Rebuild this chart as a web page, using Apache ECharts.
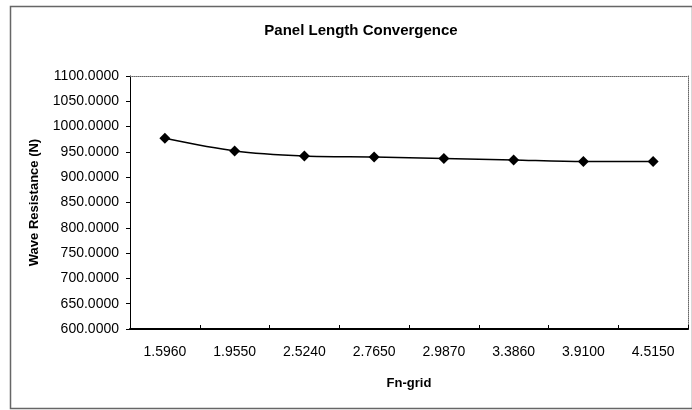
<!DOCTYPE html>
<html>
<head>
<meta charset="utf-8">
<script src="https://cdn.jsdelivr.net/npm/echarts@6/dist/echarts.min.js"></script>
<style>
  html, body { margin: 0; padding: 0; background: #fff; }
  #chart { width: 692px; height: 410px; }
</style>
</head>
<body>
<div id="chart"></div>
<script>
// Fn-grid categories and computed wave resistance (N)
const fnGrid = ['1.5960', '1.9550', '2.5240', '2.7650', '2.9870', '3.3860', '3.9100', '4.5150'];
const waveResistance = [977, 952, 942, 940, 937, 934, 931, 931];
const yMin = 600;
const yMax = 1100;
const yStep = 50;

const FONT = '"Liberation Sans", Arial, sans-serif';
const chart = echarts.init(document.getElementById('chart'), null, { renderer: 'canvas' });

chart.setOption({
  animation: false,
  backgroundColor: '#fff',
  title: {
    text: 'Panel Length Convergence',
    left: 356,
    textAlign: 'center',
    top: 18,
    textStyle: { fontFamily: FONT, fontSize: 15, fontWeight: 'bold', color: '#000' }
  },
  graphic: [{
    type: 'rect',
    left: 8,
    top: 4,
    shape: { width: 682, height: 402 },
    style: { fill: 'none', stroke: '#666', lineWidth: 1.5 },
    silent: true
  }],
  grid: { left: 130, right: 4, top: 76, bottom: 81 },
  xAxis: [{
    type: 'category',
    data: fnGrid,
    boundaryGap: true,
    position: 'bottom',
    name: 'Fn-grid',
    nameLocation: 'middle',
    nameGap: 48,
    nameTextStyle: { fontFamily: FONT, fontSize: 13, fontWeight: 'bold', color: '#000' },
    axisLine: { lineStyle: { color: '#000', width: 2 } },
    axisTick: { show: true, inside: true, length: 4, alignWithLabel: false, lineStyle: { color: '#000' } },
    axisLabel: { fontFamily: FONT, fontSize: 14, color: '#000', margin: 16 },
    splitLine: { show: false }
  }, {
    type: 'category',
    data: fnGrid,
    position: 'top',
    axisLine: { lineStyle: { color: '#666', width: 1, type: 'dotted' } },
    axisTick: { show: false },
    axisLabel: { show: false },
    splitLine: { show: false }
  }],
  yAxis: [{
    type: 'value',
    min: yMin,
    max: yMax,
    interval: yStep,
    name: 'Wave Resistance (N)',
    nameLocation: 'middle',
    nameGap: 89,
    nameTextStyle: { fontFamily: FONT, fontSize: 13, fontWeight: 'bold', color: '#000' },
    axisLine: { show: true, lineStyle: { color: '#000', width: 1 } },
    axisTick: { show: true, length: 4, lineStyle: { color: '#000' } },
    axisLabel: {
      fontFamily: FONT, fontSize: 14, color: '#000', margin: 11,
      formatter: v => v.toFixed(4)
    },
    splitLine: { show: false }
  }, {
    type: 'value',
    min: yMin,
    max: yMax,
    interval: yStep,
    position: 'right',
    axisLine: { show: true, lineStyle: { color: '#666', width: 1, type: 'dotted' } },
    axisTick: { show: false },
    axisLabel: { show: false },
    splitLine: { show: false }
  }],
  series: [{
    type: 'line',
    data: waveResistance,
    xAxisIndex: 0,
    yAxisIndex: 0,
    smooth: 0.3,
    symbol: 'diamond',
    symbolSize: 11,
    itemStyle: { color: '#000' },
    lineStyle: { color: '#000', width: 1.5 }
  }]
});
</script>
</body>
</html>
